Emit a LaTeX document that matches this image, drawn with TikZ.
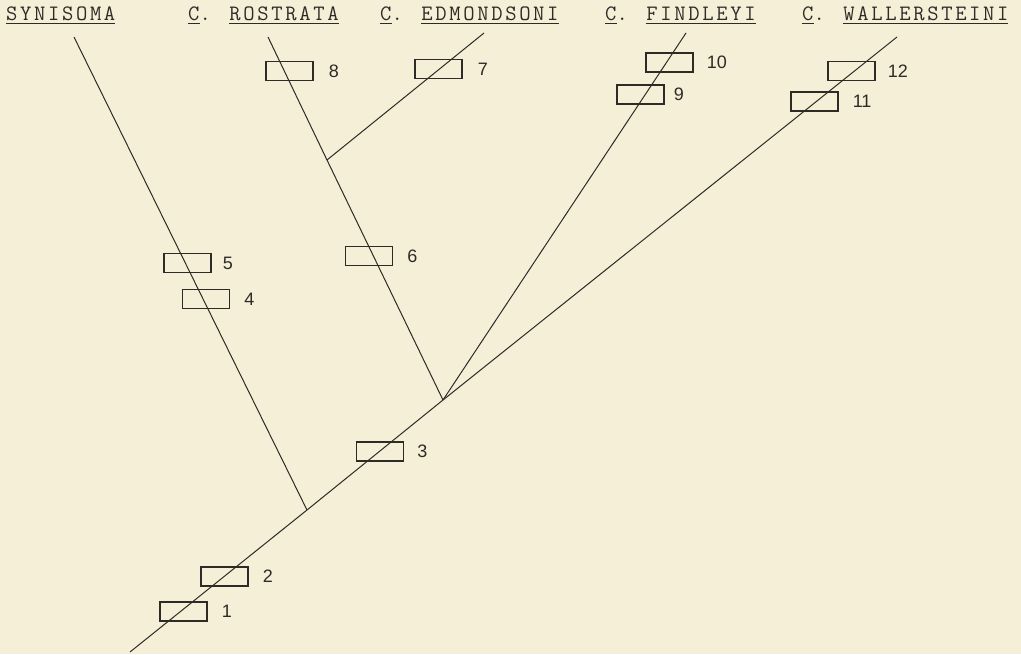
\documentclass[tikz,border=0pt]{standalone}
\usepackage{fontspec}
\newfontfamily\typefont{Latin Modern Mono}[LetterSpace=12]
\newfontfamily\numfont{Liberation Sans}
\usepackage{xcolor}
\definecolor{paper}{HTML}{F5EFD7}
\definecolor{ink}{HTML}{2E2B26}
\newcommand\undr[1]{\setbox0\hbox{#1}\rlap{\rule[-4pt]{\wd0}{1.2pt}}\box0}
\tikzset{
  taxon/.style={anchor=base west, inner sep=0pt, text=ink,
    font=\typefont\fontsize{22}{26}\selectfont},
  step box/.style={draw=ink, line width=1.2pt, rectangle, inner sep=0pt,
    minimum width=47pt, minimum height=19pt},
  step num/.style={anchor=west, inner sep=0pt, text=ink,
    font=\numfont\fontsize{18}{20}\selectfont},
  branch/.style={draw=ink, line width=1pt}
}
\begin{document}
\begin{tikzpicture}[x=1pt, y=-1pt]
\fill[paper] (0,0) rectangle (1021,654);
\useasboundingbox (0,0) rectangle (1021,654);

\node[taxon] (syn) at (6,20) {\undr{SYNISOMA}};
\node[taxon] (ros) at (188,20) {\undr{C}. \undr{ROSTRATA}};
\node[taxon] (edm) at (380,20) {\undr{C}. \undr{EDMONDSONI}};
\node[taxon] (fin) at (605,20) {\undr{C}. \undr{FINDLEYI}};
\node[taxon] (wal) at (802,20) {\undr{C}. \undr{WALLERSTEINI}};

\coordinate (synTip) at (74,37);
\coordinate (rosTip) at (268,37);
\coordinate (edmTip) at (484,33);
\coordinate (finTip) at (686,33);
\coordinate (walTip) at (897,37);
\coordinate (root) at (130,652);
\coordinate (synJoin) at (307,510);
\coordinate (mainJoin) at (443,400);
\coordinate (edmJoin) at (327,160);

\draw[branch] (root) -- (synJoin) -- (mainJoin) -- (walTip);
\draw[branch] (synJoin) -- (synTip);
\draw[branch] (mainJoin) -- (edmJoin) -- (rosTip);
\draw[branch] (edmJoin) -- (edmTip);
\draw[branch] (mainJoin) -- (finTip);

\node[step box] (s1) at (183.5,611.5) {};
\node[step num] (n1) at ([xshift=14pt]s1.east) {1};
\node[step box] (s2) at (224.5,576.5) {};
\node[step num] (n2) at ([xshift=14pt]s2.east) {2};
\node[step box] (s3) at (380,451.5) {};
\node[step num] (n3) at ([xshift=13pt]s3.east) {3};
\node[step box] (s4) at (206,299) {};
\node[step num] (n4) at ([xshift=14pt]s4.east) {4};
\node[step box] (s5) at (187.5,263) {};
\node[step num] (n5) at ([xshift=11pt]s5.east) {5};
\node[step box] (s6) at (369,256) {};
\node[step num] (n6) at ([xshift=14pt]s6.east) {6};
\node[step box] (s7) at (438.5,69) {};
\node[step num] (n7) at ([xshift=15pt]s7.east) {7};
\node[step box] (s8) at (289.5,71) {};
\node[step num] (n8) at ([xshift=15pt]s8.east) {8};
\node[step box] (s9) at (640.5,94.5) {};
\node[step num] (n9) at ([xshift=9pt]s9.east) {9};
\node[step box] (s10) at (669.5,62.5) {};
\node[step num] (n10) at ([xshift=13pt]s10.east) {10};
\node[step box] (s11) at (814.5,101.5) {};
\node[step num] (n11) at ([xshift=14pt]s11.east) {11};
\node[step box] (s12) at (851.5,71) {};
\node[step num] (n12) at ([xshift=12pt]s12.east) {12};
\end{tikzpicture}
\end{document}
